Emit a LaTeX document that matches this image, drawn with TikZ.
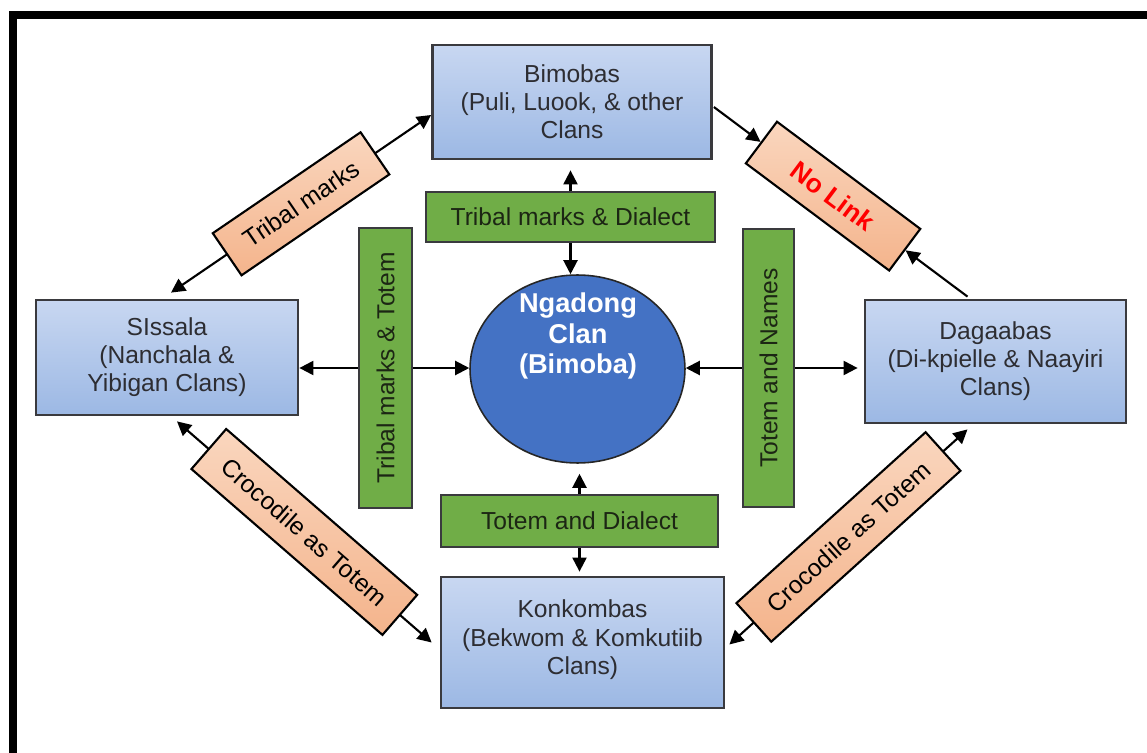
\documentclass[tikz,border=0pt]{standalone}
\usepackage{fontspec}
\setmainfont{Liberation Sans}
\usepackage{xcolor}
\usepackage{graphicx}
\usepackage{tikz}
\usetikzlibrary{positioning, arrows.meta, shapes.geometric, calc}
\definecolor{ClanTop}{RGB}{200,215,241}
\definecolor{ClanBottom}{RGB}{156,184,228}
\definecolor{ClanEdge}{RGB}{58,58,62}
\definecolor{ClanText}{RGB}{45,45,50}
\definecolor{TraitGreen}{RGB}{112,173,71}
\definecolor{TraitText}{RGB}{28,38,20}
\definecolor{PeachTop}{RGB}{250,214,190}
\definecolor{PeachBottom}{RGB}{244,180,140}
\definecolor{CoreBlue}{RGB}{68,114,196}
\definecolor{NoLinkRed}{RGB}{255,0,0}

\begin{document}
\begin{tikzpicture}[x=0.02cm, y=-0.02cm]
  \tikzset{
    clan/.style={draw=ClanEdge, line width=1.6pt, top color=ClanTop, bottom color=ClanBottom,
      align=center, text=ClanText, font=\fontsize{14}{16}\selectfont},
    trait/.style={draw=ClanEdge, line width=1.4pt, fill=TraitGreen, text=TraitText,
      inner sep=0pt, font=\fontsize{14}{16}\selectfont},
    tag/.style={draw=black, line width=1.2pt, top color=PeachTop, bottom color=PeachBottom,
      sloped, inner sep=0pt, font=\fontsize{14}{16}\selectfont},
    arr/.style={line width=1.2pt, -{Triangle[length=8pt, width=8pt]}},
    arrs/.style={line width=1.2pt, {Triangle[length=8pt, width=8pt]}-{Triangle[length=8pt, width=8pt]}}
  }
  \useasboundingbox (0,0) rectangle (1147,753);
  \draw[line width=0.16cm] (13,800) |- (1200,15);

  \node[clan, minimum width=5.58cm, minimum height=2.28cm] (bimobas) at (572,102) {Bimobas\\(Puli, Luook, \& other\\Clans};
  \node[clan, minimum width=5.24cm, minimum height=2.3cm] (sissala) at (167,357.5) {SIssala\\(Nanchala \&\\Yibigan Clans)};
  \node[clan, minimum width=5.22cm, minimum height=2.46cm] (dagaabas) at (995.5,361.5) {Dagaabas\\(Di-kpielle \& Naayiri\\Clans)};
  \node[clan, minimum width=5.66cm, minimum height=2.62cm] (konkombas) at (582.5,642.5) {Konkombas\\(Bekwom \& Komkutiib\\Clans)\\[-0.35cm]\mbox{}};

  \node[ellipse, draw=black!85, line width=0.9pt, fill=CoreBlue, minimum width=4.3cm, minimum height=3.76cm] (ngadong) at (577.5,369) {};
  \node[text=white, align=center, font=\fontsize{15.5}{17.6}\selectfont\bfseries] (ngadongtxt) at (578,336) {Ngadong\\Clan\\(Bimoba)};

  \node[trait, minimum width=5.78cm, minimum height=1.0cm] (tdial) at (570.5,217) {Tribal marks \& Dialect};
  \node[trait, minimum width=5.54cm, minimum height=1.04cm] (bdial) at (579.5,521) {Totem and Dialect};
  \node[trait, minimum width=1.06cm, minimum height=5.6cm] (ltotem) at (385.5,368) {\rotatebox{90}{Tribal marks \& Totem}};
  \node[trait, minimum width=1.02cm, minimum height=5.56cm] (rnames) at (768.5,368) {\rotatebox{90}{Totem and Names}};

  \draw[arr] (tdial.north) -- ($(tdial.north |- bimobas.south)+(0,10)$);
  \draw[arr] (tdial.south) -- (tdial.south |- ngadong.north);
  \draw[arr] (bdial.north) -- ($(bdial.north |- ngadong.south)+(0,10)$);
  \draw[arr] (bdial.south) -- ($(bdial.south |- konkombas.north)+(0,-4)$);
  \draw[arr] (ltotem.west) -- (ltotem.west -| sissala.east);
  \draw[arr] (ltotem.east) -- (ltotem.east -| ngadong.west);
  \draw[arr] (rnames.west) -- (rnames.west -| ngadong.east);
  \draw[arr] (rnames.east) -- ($(rnames.east -| dagaabas.west)+(-6,0)$);

  \draw[arrs] ($(sissala.north)+(4,-6)$) -- node[tag, minimum width=3.58cm, minimum height=1.02cm] (tmarks) {Tribal marks} ($(bimobas.west)+(0,13)$);
  \path ($(bimobas.east)+(1,5)$) coordinate (nlstart) -- node[tag, pos=0.47, minimum width=3.58cm, minimum height=1.04cm, text=NoLinkRed, font=\fontsize{15}{17}\selectfont\bfseries] (nolink) {No Link} ($(dagaabas.north)+(-28,-2)$) coordinate (nlend);
  \draw[arr] (nlstart) -- (nolink);
  \draw[arr] (nlend) -- (nolink);
  \draw[arrs] ($(sissala.south)+(10,5)$) -- node[tag, minimum width=5.06cm, minimum height=1.06cm] (crocl) {Crocodile as Totem} ($(konkombas.west)+(-8,0)$);
  \draw[arrs] ($(konkombas.east)+(4,2)$) -- node[tag, minimum width=5.1cm, minimum height=1.04cm] (crocr) {Crocodile as Totem} ($(dagaabas.south)+(-28,5)$);
\end{tikzpicture}
\end{document}
